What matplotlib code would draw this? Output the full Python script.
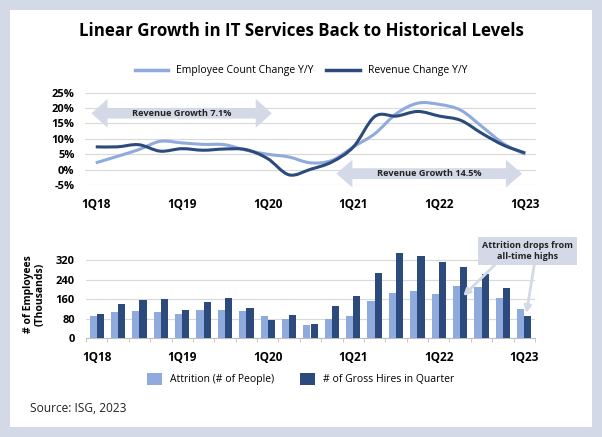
import numpy as np
import matplotlib
matplotlib.use("Agg")
import matplotlib.pyplot as plt
from matplotlib.path import Path
from matplotlib.patches import PathPatch, FancyArrow, Rectangle
from matplotlib.lines import Line2D

plt.rcParams["font.family"] = ["Open Sans", "DejaVu Sans"]

LIGHT = "#8faadc"
DARK = "#2c4a7c"
FRAME = "#d3d9e6"
GRID = "#d9d9d9"

quarters = ["1Q18", "2Q18", "3Q18", "4Q18", "1Q19", "2Q19", "3Q19", "4Q19",
            "1Q20", "2Q20", "3Q20", "4Q20", "1Q21", "2Q21", "3Q21", "4Q21",
            "1Q22", "2Q22", "3Q22", "4Q22", "1Q23"]
tick_labels = ["1Q18", "1Q19", "1Q20", "1Q21", "1Q22", "1Q23"]

employee_change = [2.2, 4.3, 6.5, 9.2, 8.7, 8.2, 8.1, 6.3, 5.0, 4.1, 2.2, 3.0,
                   7.4, 11.7, 18.2, 21.6, 21.2, 19.3, 13.9, 8.4, 5.0]
revenue_change = [7.4, 7.4, 8.1, 6.0, 6.8, 6.3, 6.7, 6.5, 3.6, -1.7, 0.1, 2.5,
                  7.4, 17.3, 17.4, 18.9, 17.4, 16.0, 11.7, 7.9, 5.4]

attrition = [91, 109, 112, 108, 99, 116, 116, 112, 91, 80, 54, 80,
             91, 153, 184, 193, 180, 214, 211, 166, 120]
gross_hires = [98, 140, 157, 159, 116, 148, 165, 125, 75, 94, 59, 131,
               174, 267, 349, 336, 311, 292, 262, 204, 91]


def smooth_path(x, y):
    # Catmull-Rom style bezier through the points, like Excel's smoothed line
    pts = np.column_stack([x, y]).astype(float)
    verts = [pts[0]]
    codes = [Path.MOVETO]
    n = len(pts)
    for i in range(n - 1):
        p0 = pts[max(i - 1, 0)]
        p1 = pts[i]
        p2 = pts[i + 1]
        p3 = pts[min(i + 2, n - 1)]
        verts += [p1 + (p2 - p0) / 6, p2 - (p3 - p1) / 6, p2]
        codes += [Path.CURVE4] * 3
    return Path(verts, codes)


def double_arrow(ax, xl, xr, yc, body, head_w, head_l, label):
    xm = (xl + xr) / 2
    for tip in (xl, xr):
        a = FancyArrow(xm, yc, tip - xm, 0, width=body, head_width=head_w,
                       head_length=head_l, length_includes_head=True,
                       color=FRAME, lw=0, clip_on=False, zorder=1)
        ax.add_patch(a)
    ax.text(xm, yc, label, ha="center", va="center", fontsize=6.6,
            fontweight="bold", color="#222222", zorder=5)


fig = plt.figure(figsize=(6.02, 4.37), dpi=100)
fig.patch.set_facecolor(FRAME)
fig.patches.append(Rectangle((10 / 602, 10 / 437), 582 / 602, 417 / 437,
                             transform=fig.transFigure, fc="white", ec="none",
                             zorder=-10))

fig.text(0.5, 1 - 31 / 437, "Linear Growth in IT Services Back to Historical Levels",
         ha="center", va="center", fontsize=12.2, fontweight="bold", color="black")

x = np.arange(len(quarters))
tick_pos = [quarters.index(t) for t in tick_labels]

# top: line chart
ax1 = fig.add_axes([85 / 602, 1 - 185 / 437, 451 / 602, 92.3 / 437])
ax1.patch.set_visible(False)
ax1.add_patch(PathPatch(smooth_path(x, employee_change), fill=False,
                        ec=LIGHT, lw=2.2, zorder=3))
ax1.add_patch(PathPatch(smooth_path(x, revenue_change), fill=False,
                        ec=DARK, lw=2.2, zorder=4))
ax1.set_xlim(-0.5, 20.5)
ax1.set_ylim(-5, 25)
ax1.set_yticks(range(-5, 26, 5))
ax1.set_yticklabels([f"{v}%" for v in range(-5, 26, 5)], fontsize=8,
                    fontweight="bold")
ax1.set_xticks(tick_pos)
ax1.set_xticklabels(tick_labels, fontsize=8.5, fontweight="bold")
ax1.tick_params(axis="y", length=0, pad=7.5)
ax1.tick_params(axis="x", length=0, pad=9)
ax1.grid(axis="y", color=GRID, lw=0.8)
ax1.set_axisbelow(True)
for s in ax1.spines.values():
    s.set_visible(False)

double_arrow(ax1, -0.2, 8.2, 18.3, 3.4, 9.4, 0.75, "Revenue Growth 7.1%")
double_arrow(ax1, 11.2, 19.85, -1.3, 3.5, 9.0, 0.75, "Revenue Growth 14.5%")

h1 = [Line2D([], [], color=LIGHT, lw=2.5), Line2D([], [], color=DARK, lw=2.5)]
fig.legend(h1, ["Employee Count Change Y/Y", "Revenue Change Y/Y"],
           loc="center", bbox_to_anchor=(0.5, 1 - 71 / 437), ncol=2,
           frameon=False, fontsize=7.5, handlelength=3.2, columnspacing=1.2)

# bottom: bar chart
ax2 = fig.add_axes([86 / 602, 1 - 338.3 / 437, 449 / 602, 88 / 437])
ax2.patch.set_visible(False)
w = 0.335
ax2.bar(x - w / 2, attrition, w, color=LIGHT, zorder=3,
        label="Attrition (# of People)")
ax2.bar(x + w / 2, gross_hires, w, color=DARK, zorder=3,
        label="# of Gross Hires in Quarter")
ax2.set_xlim(-0.5, 20.5)
ax2.set_ylim(0, 360)
ax2.set_yticks(range(0, 321, 80))
ax2.set_yticklabels([str(v) for v in range(0, 321, 80)], fontsize=8,
                    fontweight="bold")
ax2.set_xticks(tick_pos)
ax2.set_xticklabels(tick_labels, fontsize=8.5, fontweight="bold")
ax2.set_xticks(np.arange(-0.5, 21, 1), minor=True)
ax2.tick_params(axis="x", which="major", length=0, pad=9)
ax2.tick_params(axis="x", which="minor", length=3, color="#bfbfbf")
ax2.tick_params(axis="y", length=0, pad=8)
ax2.grid(axis="y", color=GRID, lw=0.8)
ax2.set_axisbelow(True)
for k in ("top", "right", "left"):
    ax2.spines[k].set_visible(False)
ax2.spines["bottom"].set_color("#bfbfbf")
ax2.set_ylabel("# of Employees\n(Thousands)", fontsize=7.5, fontweight="bold",
               labelpad=7, linespacing=1.1)

ax2.text(20.14, 356, "Attrition drops from\nall-time highs", ha="center",
         va="center", fontsize=6.5, fontweight="bold", color="#222222",
         linespacing=1.3, zorder=6,
         bbox=dict(boxstyle="square,pad=0.45", fc=FRAME, ec="none"))
for tx, ty, sx, sy in [(17.14, 173, 18.85, 320), (20.1, 103, 20.5, 320)]:
    ax2.annotate("", xy=(tx, ty), xytext=(sx, sy),
                 arrowprops=dict(arrowstyle="-|>", color=FRAME, lw=2,
                                 mutation_scale=10, shrinkA=0, shrinkB=0),
                 annotation_clip=False, zorder=5)

h2, l2 = ax2.get_legend_handles_labels()
fig.legend(h2, l2, loc="center", bbox_to_anchor=(0.5, 1 - 379 / 437), ncol=2,
           frameon=False, fontsize=7.5, handlelength=1.4, handleheight=1.4,
           columnspacing=2.5)

fig.text(30 / 602, 1 - 408 / 437, "Source: ISG, 2023", ha="left", va="center",
         fontsize=8.6, color="#222222")

fig.savefig("out.png", dpi=100, facecolor=fig.get_facecolor())
